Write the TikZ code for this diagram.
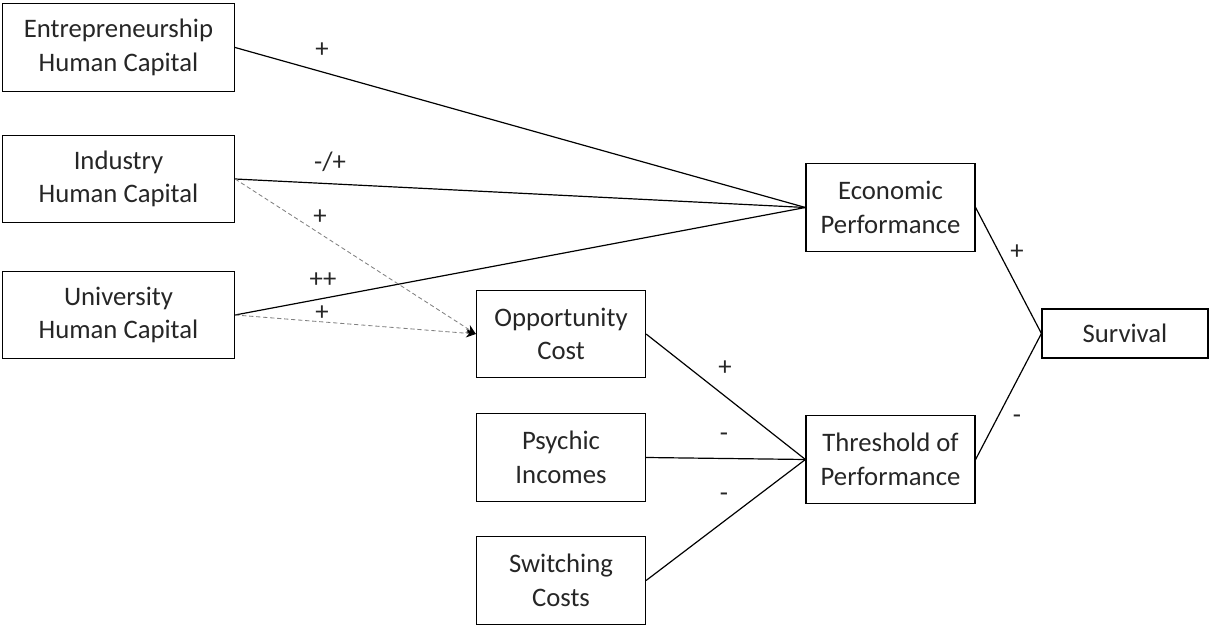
\documentclass[tikz,border=0pt]{standalone}
\usepackage{fontspec}
\setmainfont{Carlito}
\usetikzlibrary{arrows.meta}

\begin{document}
\begin{tikzpicture}[x=0.025cm, y=-0.025cm,
	box/.style={draw, line width=0.8pt, align=center, inner sep=0pt,
		text=black!85, font=\fontsize{19}{24}\selectfont},
	link/.style={line width=0.85pt},
	dotlink/.style={densely dashed, gray, line width=0.6pt, -{Stealth[length=7pt, width=6pt, black]}},
	sign/.style={text=black!85, font=\fontsize{19}{24}\selectfont}]
	\def\wl{5.8cm};
	\def\w{4.225cm};
	\def\h{2.18cm};

	\useasboundingbox (0,0) rectangle (1210,628);

	% human capital
	\begin{scope}[every node/.style={box, minimum width=\wl, minimum height=\h}]
		\node (ent) at (118.5,47.5) {Entrepreneurship\\Human Capital};
		\node (ind) at (118.5,179) {Industry\\Human Capital};
		\node (uni) at (118.5,315) {University\\Human Capital};
	\end{scope}

	% costs
	\begin{scope}[every node/.style={box, minimum width=\w, minimum height=\h}]
		\node (opp) at (561,334) {Opportunity\\Cost};
		\node (psy) at (561,457.5) {Psychic\\Incomes};
		\node (swi) at (561,580.5) {Switching\\Costs};
		\node (eco) at (890.5,207.5) {Economic\\Performance};
		\node (thr) at (890.5,459.5) {Threshold of\\Performance};
	\end{scope}
	\node [box, minimum width=4.15cm, minimum height=1.225cm] (sur) at (1125,333.5) {Survival};

	\begin{scope}[link]
		\draw (ent.east) -- (eco.west);
		\draw (ind.east) -- (eco.west);
		\draw (uni.east) -- (eco.west);
		\draw (opp.east) -- (thr.west);
		\draw (psy.east) -- (thr.west);
		\draw (swi.east) -- (thr.west);
		\draw (eco.east) -- (sur.west);
		\draw (thr.east) -- (sur.west);
	\end{scope}

	\draw [dotlink] (ind.east) -- (opp.west);
	\draw [dotlink] (uni.east) -- (opp.west);

	\begin{scope}[every node/.style={sign}]
		\node at (322,50) {+};
		\node at (330,162) {-/+};
		\node at (320,217) {+};
		\node at (323,280) {++};
		\node at (322,313) {+};
		\node at (725,368) {+};
		\node at (724,437) {-};
		\node at (724,497) {-};
		\node at (1017,252) {+};
		\node at (1017,419) {-};
	\end{scope}
\end{tikzpicture}
\end{document}
